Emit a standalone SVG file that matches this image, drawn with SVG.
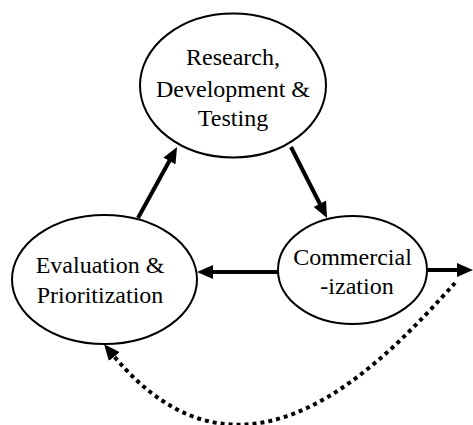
<svg xmlns="http://www.w3.org/2000/svg" width="473" height="425" viewBox="0 0 473 425">
<style>
.node ellipse{fill:#fff;stroke:#000;stroke-width:2}
.node text{font-size:24px;fill:#000;text-anchor:middle}
.conn{fill:none;stroke:#000;stroke-width:4}
.dot{stroke-dasharray:4 4}
</style>
<defs>
<marker id="ah" markerUnits="userSpaceOnUse" markerWidth="16" markerHeight="14" refX="2" refY="7" orient="auto" viewBox="0 0 16 14">
<path d="M0,0 L16,7 L0,14 z" fill="#000"/>
</marker>
</defs>
<rect width="473" height="425" fill="#fff"/>
<g id="connectors">
<path class="conn" d="M138,218 L170.3,159.3" marker-end="url(#ah)"/>
<path class="conn" d="M291,147 L320.7,205.5" marker-end="url(#ah)"/>
<path class="conn" d="M278,272 L211,272" marker-end="url(#ah)"/>
<path class="conn" d="M428,270 L459,270" marker-end="url(#ah)"/>
<path class="conn dot" d="M455,283 C385,360 245,515 113,355" marker-end="url(#ah)"/>
</g>
<g font-family="Liberation Serif, Times New Roman, serif">
<g id="node-research" class="node">
<ellipse cx="233" cy="85.5" rx="93" ry="72"/>
<text x="233" y="65">Research,</text>
<text x="233" y="97">Development &amp;</text>
<text x="233" y="126">Testing</text>
</g>
<g id="node-evaluation" class="node">
<ellipse cx="104.5" cy="279.5" rx="92.5" ry="64.5"/>
<text x="100" y="273">Evaluation &amp;</text>
<text x="100" y="303">Prioritization</text>
</g>
<g id="node-commercialization" class="node">
<ellipse cx="352.5" cy="270" rx="74.5" ry="54"/>
<text x="352.5" y="265">Commercial</text>
<text x="357" y="294">-ization</text>
</g>
</g>
</svg>
